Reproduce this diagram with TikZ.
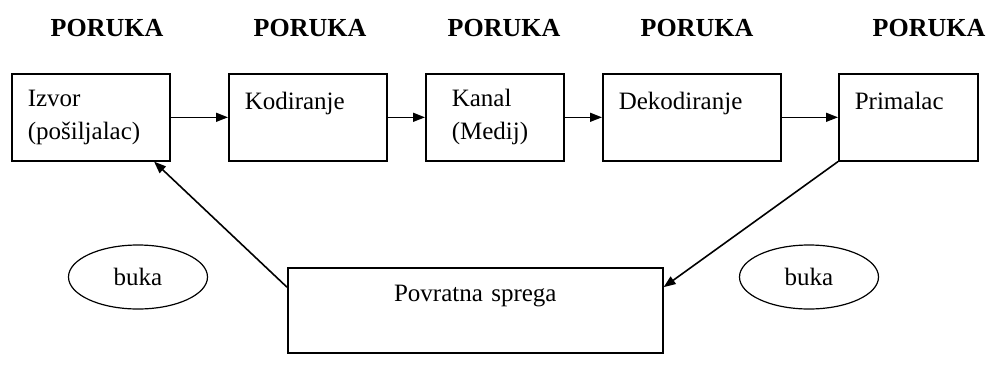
\documentclass[tikz,border=0pt]{standalone}
\usepackage{fontspec}
\setmainfont{Liberation Serif}
\usetikzlibrary{shapes.geometric, arrows.meta}

\begin{document}
\begin{tikzpicture}[x = 1pt, y = -1pt, line width = 1.6pt, >={Triangle[length = 12pt, width = 9pt]},
	blok/.style = {draw, anchor = north west, align = left, inner xsep = 16pt, inner ysep = 0pt, minimum height = 87pt, font = {\fontsize{25}{33}\selectfont}},
	oblak/.style = {ellipse, draw, line width = 1.2pt, minimum width = 139pt, minimum height = 64pt, inner sep = 0pt, font = {\fontsize{25}{30}\selectfont}},
	poruka/.style = {font = {\fontsize{26}{30}\selectfont\bfseries}}]
		\useasboundingbox (0, 0) rectangle (988, 389);
		\node[poruka] (p1) at (107, 28) {PORUKA};
		\node[poruka] (p2) at (310, 28) {PORUKA};
		\node[poruka] (p3) at (504, 28) {PORUKA};
		\node[poruka] (p4) at (697, 28) {PORUKA};
		\node[poruka] (p5) at (929, 28) {PORUKA};
		\node[blok, text width = 126pt] (izvor) at (11, 73) {Izvor\\(pošiljalac)};
		\node[blok, text width = 126pt] (kod) at (228, 73) {Kodiranje\\~};
		\node[blok, text width = 86pt, inner xsep = 26pt] (kanal) at (425, 73) {Kanal\\(Medij)};
		\node[blok, text width = 146pt] (dekod) at (602, 73) {Dekodiranje\\~};
		\node[blok, text width = 107pt] (prim) at (838, 73) {Primalac\\~};
		\node[blok, text width = 343pt, align = center, minimum height = 85pt] (sprega) at (287, 267) {Povratna sprega\\~};
		\node[oblak] (buka1) at (138, 277) {buka\hspace{26pt}};
		\node[oblak] (buka2) at (809, 277) {buka\hspace{26pt}};
		\draw[->] (izvor) -- (kod);
		\draw[->] (kod) -- (kanal);
		\draw[->] (kanal) -- (dekod);
		\draw[->] (dekod) -- (prim);
		\draw[->] (sprega.173) -- (izvor.-35);
		\draw[->] (prim.south west) -- (sprega.7);
	\end{tikzpicture}
\end{document}
